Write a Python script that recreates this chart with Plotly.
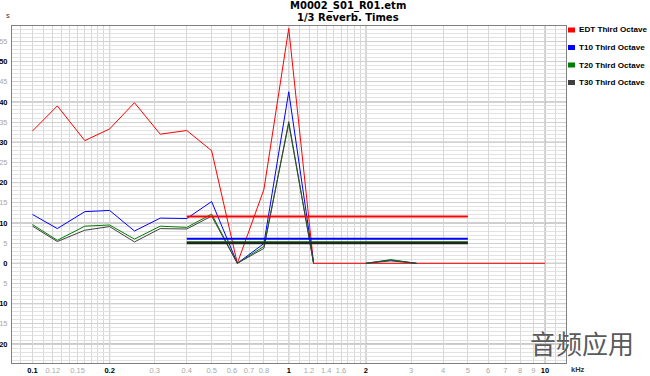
import plotly.graph_objects as go

# ---- data ----
freqs = [0.1, 0.125, 0.16, 0.2, 0.25, 0.315, 0.4, 0.5, 0.63, 0.8, 1.0, 1.25, 1.6,
         2.0, 2.5, 3.15, 4.0, 5.0, 6.3, 8.0, 10.0]
edt = [32.8, 39.0, 30.4, 33.3, 39.8, 32.0, 32.9, 27.9, 0.0, 18.3, 58.2, 0.0, 0.0,
       0.0, 0.0, 0.0, 0.0, 0.0, 0.0, 0.0, 0.0]
t10 = [12.1, 8.6, 12.8, 13.1, 8.0, 11.2, 11.1, 15.3, 0.0, 4.9, 42.5, 0.0, None,
       0.0, 0.8, 0.0, None, None, None, None, None]
t20 = [9.6, 5.7, 9.2, 9.5, 6.0, 9.2, 8.9, 12.2, 0.0, 4.2, 34.6, 0.0, None,
       0.0, 0.9, 0.0, None, None, None, None, None]
t30 = [9.2, 5.4, 8.2, 9.1, 5.3, 8.6, 8.5, 11.7, 0.0, 3.7, 35.1, 0.0, None,
       0.0, 0.6, 0.0, None, None, None, None, None]

avg_span = [0.4, 5.0]
edt_avg = 11.6
t10_avg = 6.1
t20_avg = 5.2
t30_avg = 5.0

series_names = ["EDT Third Octave", "T10 Third Octave", "T20 Third Octave", "T30 Third Octave"]
series_colors = ["#ff0000", "#0000ff", "#008000", "#404040"]

x_tick_vals = [0.1, 0.12, 0.15, 0.2, 0.3, 0.4, 0.5, 0.6, 0.7, 0.8, 1, 1.2, 1.4, 1.6,
               2, 3, 4, 5, 6, 7, 8, 9, 10]
x_tick_labels = ["0.1", "0.12", "0.15", "0.2", "0.3", "0.4", "0.5", "0.6", "0.7", "0.8",
                 "1", "1.2", "1.4", "1.6", "2", "3", "4", "5", "6", "7", "8", "9", "10"]
x_major_labels = ["0.1", "0.2", "1", "2", "10"]
x_minor_vals = [0.09, 0.11, 0.13, 0.14, 0.16, 0.17, 0.18, 0.19, 0.9,
                1.1, 1.3, 1.5, 1.7, 1.8, 1.9, 11]
x_dark_vals = [0.1, 0.2, 1, 2, 10]

y_tick_vals = list(range(-20, 60, 5))
y_tick_labels = [str(abs(v)) for v in y_tick_vals]  # minus signs clipped in the original
y_dark_vals = list(range(-20, 60, 10))

# ---- geometry helpers (pixel -> paper) ----
W, H = 650, 376
L, R, T, B = 12, 84, 26, 13
PW, PH = W - L - R, H - T - B


def px(x):
    return (x - L) / PW


def py(y):
    return (H - B - y) / PH


fig = go.Figure()

all_vals = [edt, t10, t20, t30]
for name, col, vals in zip(series_names, series_colors, all_vals):
    fig.add_trace(go.Scatter(x=freqs, y=vals, mode="lines", name=name,
                             line=dict(color=col, width=1), showlegend=False,
                             connectgaps=False, hoverinfo="skip"))

avgs = [edt_avg, t10_avg, t20_avg, t30_avg]
avg_colors = ["#ff0000", "#0000ff", "#006000", "#202020"]
for name, col, a in zip(series_names, avg_colors, avgs):
    fig.add_trace(go.Scatter(x=avg_span, y=[a, a], mode="lines", name=name + " avg",
                             line=dict(color=col, width=2), showlegend=False,
                             hoverinfo="skip"))

# tick text styling
xt = []
for lab in x_tick_labels:
    if lab in x_major_labels:
        xt.append("<b>" + lab + "</b>")
    else:
        xt.append("<span style='color:#a8a8a8'>" + lab + "</span>")
yt = []
for v, lab in zip(y_tick_vals, y_tick_labels):
    if v in y_dark_vals:
        yt.append("<b>" + lab + "</b>")
    else:
        yt.append("<span style='color:#a8a8a8'>" + lab + "</span>")

shapes = []
for v in x_dark_vals:
    shapes.append(dict(type="line", xref="x", yref="paper", x0=v, x1=v, y0=0, y1=1,
                       line=dict(color="#909090", width=1), layer="below"))
for v in y_dark_vals:
    shapes.append(dict(type="line", xref="paper", yref="y", x0=0, x1=1, y0=v, y1=v,
                       line=dict(color="#909090", width=1), layer="below"))

# legend (drawn as squares + text to the right of the plot)
leg_y = [30, 47.5, 65, 82.5]
annotations = []
for name, col, yy in zip(series_names, series_colors, leg_y):
    shapes.append(dict(type="rect", xref="paper", yref="paper",
                       x0=px(568), x1=px(575), y0=py(yy + 2.5), y1=py(yy - 2.5),
                       fillcolor=col, line=dict(width=0)))
    annotations.append(dict(text="<b>" + name + "</b>", xref="paper", yref="paper",
                            x=px(576.5), y=py(yy), xanchor="left", yanchor="middle",
                            showarrow=False,
                            font=dict(family="Liberation Sans", size=8.1, color="#000000")))

annotations.append(dict(text="<b>M0002_S01_R01.etm</b>", xref="paper", yref="paper",
                        x=px(348), y=py(5.5), xanchor="center", yanchor="middle",
                        showarrow=False,
                        font=dict(family="DejaVu Sans", size=10, color="#000000")))
annotations.append(dict(text="<b>1/3 Reverb. Times</b>", xref="paper", yref="paper",
                        x=px(348), y=py(17), xanchor="center", yanchor="middle",
                        showarrow=False,
                        font=dict(family="DejaVu Sans", size=10, color="#000000")))
annotations.append(dict(text="s", xref="paper", yref="paper", x=px(7.5), y=py(15),
                        xanchor="center", yanchor="middle", showarrow=False,
                        font=dict(family="Liberation Sans", size=7.5, color="#333333")))
annotations.append(dict(text="<b>kHz</b>", xref="paper", yref="paper", x=px(578),
                        y=py(369.5), xanchor="center", yanchor="middle", showarrow=False,
                        font=dict(family="Liberation Sans", size=7.5, color="#333333")))
annotations.append(dict(text="音频应用", xref="paper", yref="paper", x=px(582),
                        y=py(363), xanchor="center", yanchor="bottom", showarrow=False,
                        font=dict(family="Noto Sans CJK SC", size=26, color="#5a5a5a")))

fig.update_layout(
    width=W, height=H,
    margin=dict(l=L, r=R, t=T, b=B, pad=0),
    paper_bgcolor="white", plot_bgcolor="white",
    showlegend=False, hovermode=False,
    shapes=shapes, annotations=annotations,
    font=dict(family="Liberation Sans", size=7.5, color="#000000"),
    xaxis=dict(type="log", range=[-1.08, 1.082], tickmode="array",
               tickvals=x_tick_vals, ticktext=xt, showgrid=True, gridcolor="#d8d8d8",
               gridwidth=1, ticks="", showline=True, linecolor="#808080", linewidth=1,
               mirror=True, zeroline=False, automargin=False,
               tickfont=dict(family="Liberation Sans", size=7.5, color="#000000"),
               minor=dict(tickmode="array", tickvals=x_minor_vals, showgrid=True,
                          gridcolor="#d8d8d8", gridwidth=1, ticks="")),
    yaxis=dict(range=[-24.7, 58.8], tickmode="array", tickvals=y_tick_vals, ticktext=yt,
               showgrid=True, gridcolor="#d0d0d0", gridwidth=1, ticks="",
               showline=True, linecolor="#808080", linewidth=1, mirror=True,
               zeroline=False, automargin=False, ticklabelstandoff=2,
               tickfont=dict(family="Liberation Sans", size=7.5, color="#000000"),
               minor=dict(dtick=1, tick0=0, showgrid=True, gridcolor="#e2e2e2",
                          gridwidth=1, ticks="")),
)

fig.write_html("out.html")
